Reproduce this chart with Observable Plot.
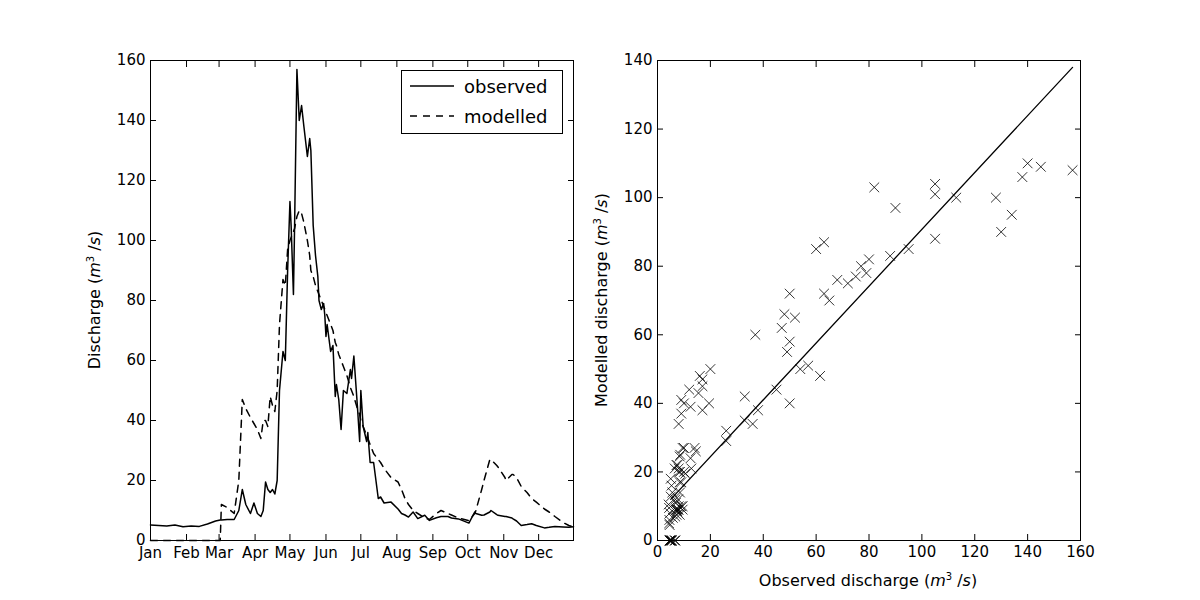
<!DOCTYPE html>
<html>
<head>
<meta charset="utf-8">
<script src="https://cdn.jsdelivr.net/npm/d3@7"></script>
<script src="https://cdn.jsdelivr.net/npm/@observablehq/plot@0.6"></script>
<style>
  body { margin: 0; background: #fff; font-family: "DejaVu Sans", sans-serif; }
  #wrap { position: relative; width: 1200px; height: 600px; }
  #left { position: absolute; left: 0; top: 0; }
  #right { position: absolute; left: 580px; top: 0; }
  #legend { position: absolute; left: 401px; top: 70px; width: 160px; height: 62px;
    border: 1px solid #000; background: #fff; font-size: 18px; }
  #legend div { display: flex; align-items: center; height: 30px; }
  #legend svg { margin: 0 10px 0 8px; }
</style>
</head>
<body>
<div id="wrap">
  <div id="left"></div>
  <div id="right"></div>
  <div id="legend">
    <div><svg width="44" height="10"><line x1="0" x2="44" y1="5" y2="5" stroke="#000" stroke-width="1.5"/></svg>observed</div>
    <div><svg width="44" height="10"><line x1="0" x2="44" y1="5" y2="5" stroke="#000" stroke-width="1.5" stroke-dasharray="7,6"/></svg>modelled</div>
  </div>
</div>
<script>
// day of year (0 = Jan 1), observed and modelled discharge (m3/s)
const days = [0,7,14,21,28,35,42,49,56,60,61,66,72,76,79,82,86,89,92,95,97,99,101,103,105,107,109,111,114,116,118,120,121,123,124,126,128,130,132,135,137,138,140,142,144,145,147,149,150,151,152,155,157,159,160,162,164,166,169,172,173,175,178,180,181,183,186,187,189,192,196,198,201,207,213,216,219,222,226,230,236,240,246,250,256,259,265,274,279,280,285,287,292,293,298,299,305,306,311,312,315,319,324,328,332,339,343,348,355,360,364];
const observed = [5.2,5,4.8,5.2,4.6,4.8,4.7,5.5,6.5,6.8,6.8,7,7,10,17,12,9,12.5,9,8,10,19.5,17,16,17,15.5,20,50,63,60,90,113,105,82,105,157,140,145,138,128,134,130,105,95,88,80,77,79,75,68,72,63,65,48,52,47,37,50,49,57,54,61.5,45,33,50,38,33,36,26,26,14,14.5,12.5,12.8,10.5,9,8.5,7.8,9.5,7.3,8.4,6.7,7.6,8,8,7.5,7.2,5.8,9.5,9,8.4,8.5,9.5,10,8.6,8.4,8,8,7.5,7.2,6.5,5,5.3,5.6,5,4.2,4.4,4.7,4.5,4.4,4.6];
const modelled = [0,0,0,0,0,0,0,0,0,0,12,11,9,20,47,44,41,39,37,34,40,40,38,48,45,43,50,72,87,85,97,100,101,103,104,108,110,109,106,100,95,90,88,85,83,82,80,78,77,76,75,72,70,66,65,62,60,58,55,51,50,48,44,42,40,38,35,34,32,29,27,26,24,21,19.5,17,14,12,10,9,7.5,7,9,10,9,8.5,7.5,6.6,9,10,17,20,27,27,25,24.5,21,20,22,22,21,18,16,14,12.8,10.5,9.5,8,6,5,4.5];
// fitted line end points
const fitX = [5, 157];
const fitY = [12, 138];

const toDate = (d) => new Date(Date.UTC(2001, 0, 1 + d));
const series = days.map((d, i) => ({date: toDate(d), obs: observed[i], mod: modelled[i]}));

const font = "DejaVu Sans";
const tickOpts = {tickSize: -6, fontSize: 15};

const left = Plot.plot({
  width: 580, height: 600,
  marginLeft: 150, marginRight: 7, marginTop: 60, marginBottom: 60,
  style: {fontFamily: font, fontSize: "15px", color: "#000", overflow: "visible"},
  x: {type: "utc", domain: [toDate(0), toDate(364)]},
  y: {domain: [0, 160]},
  marks: [
    Plot.line(series, {x: "date", y: "obs", stroke: "#000", strokeWidth: 1.5}),
    Plot.line(series, {x: "date", y: "mod", stroke: "#000", strokeWidth: 1.5, strokeDasharray: "7,6"}),
    Plot.axisX({ticks: d3.utcMonth.every(1), tickFormat: "%b", label: null, ...tickOpts, tickPadding: 13}),
    Plot.axisX({anchor: "top", ticks: d3.utcMonth.every(1), tickFormat: () => "", label: null, tickSize: -6}),
    Plot.axisY({ticks: d3.range(0, 161, 20), label: null, ...tickOpts, tickPadding: 11}),
    Plot.axisY({anchor: "right", ticks: d3.range(0, 161, 20), tickFormat: () => "", label: null, tickSize: -6}),
    Plot.frame({stroke: "#000"})
  ]
});

const right = Plot.plot({
  width: 620, height: 600,
  marginLeft: 77, marginRight: 120, marginTop: 60, marginBottom: 60,
  style: {fontFamily: font, fontSize: "15px", color: "#000", overflow: "visible"},
  x: {domain: [0, 160]},
  y: {domain: [0, 140]},
  marks: [
    Plot.dot(series, {x: "obs", y: "mod", symbol: "times", r: 4.5, stroke: "#000", strokeWidth: 0.8}),
    Plot.line(fitX.map((x, i) => ({x, y: fitY[i]})), {x: "x", y: "y", stroke: "#000", strokeWidth: 1.3}),
    Plot.axisX({ticks: d3.range(0, 161, 20), label: null, ...tickOpts, tickPadding: 12}),
    Plot.axisX({anchor: "top", ticks: d3.range(0, 161, 20), tickFormat: () => "", label: null, tickSize: -6}),
    Plot.axisY({ticks: d3.range(0, 141, 20), label: null, ...tickOpts, tickPadding: 11}),
    Plot.axisY({anchor: "right", ticks: d3.range(0, 141, 20), tickFormat: () => "", label: null, tickSize: -6}),
    Plot.frame({stroke: "#000"})
  ]
});

d3.select("#left").append(() => left);
d3.select("#right").append(() => right);

// axis titles with italic units
function unitLabel(svg, x, y, rotate, prefix) {
  const t = d3.select(svg).append("text")
    .attr("transform", `translate(${x},${y})` + (rotate ? " rotate(-90)" : ""))
    .attr("text-anchor", "middle")
    .attr("font-family", font).attr("font-size", 16).attr("fill", "#000");
  t.append("tspan").text(prefix + " (");
  t.append("tspan").attr("font-style", "italic").text("m");
  t.append("tspan").attr("font-size", 10).attr("dy", -6).text("3");
  t.append("tspan").attr("dy", 6).text(" /");
  t.append("tspan").attr("font-style", "italic").text("s");
  t.append("tspan").text(")");
}
unitLabel(left, 100, 300, true, "Discharge");
unitLabel(right, 27, 300, true, "Modelled discharge");
unitLabel(right, 288, 586, false, "Observed discharge");
</script>
</body>
</html>
